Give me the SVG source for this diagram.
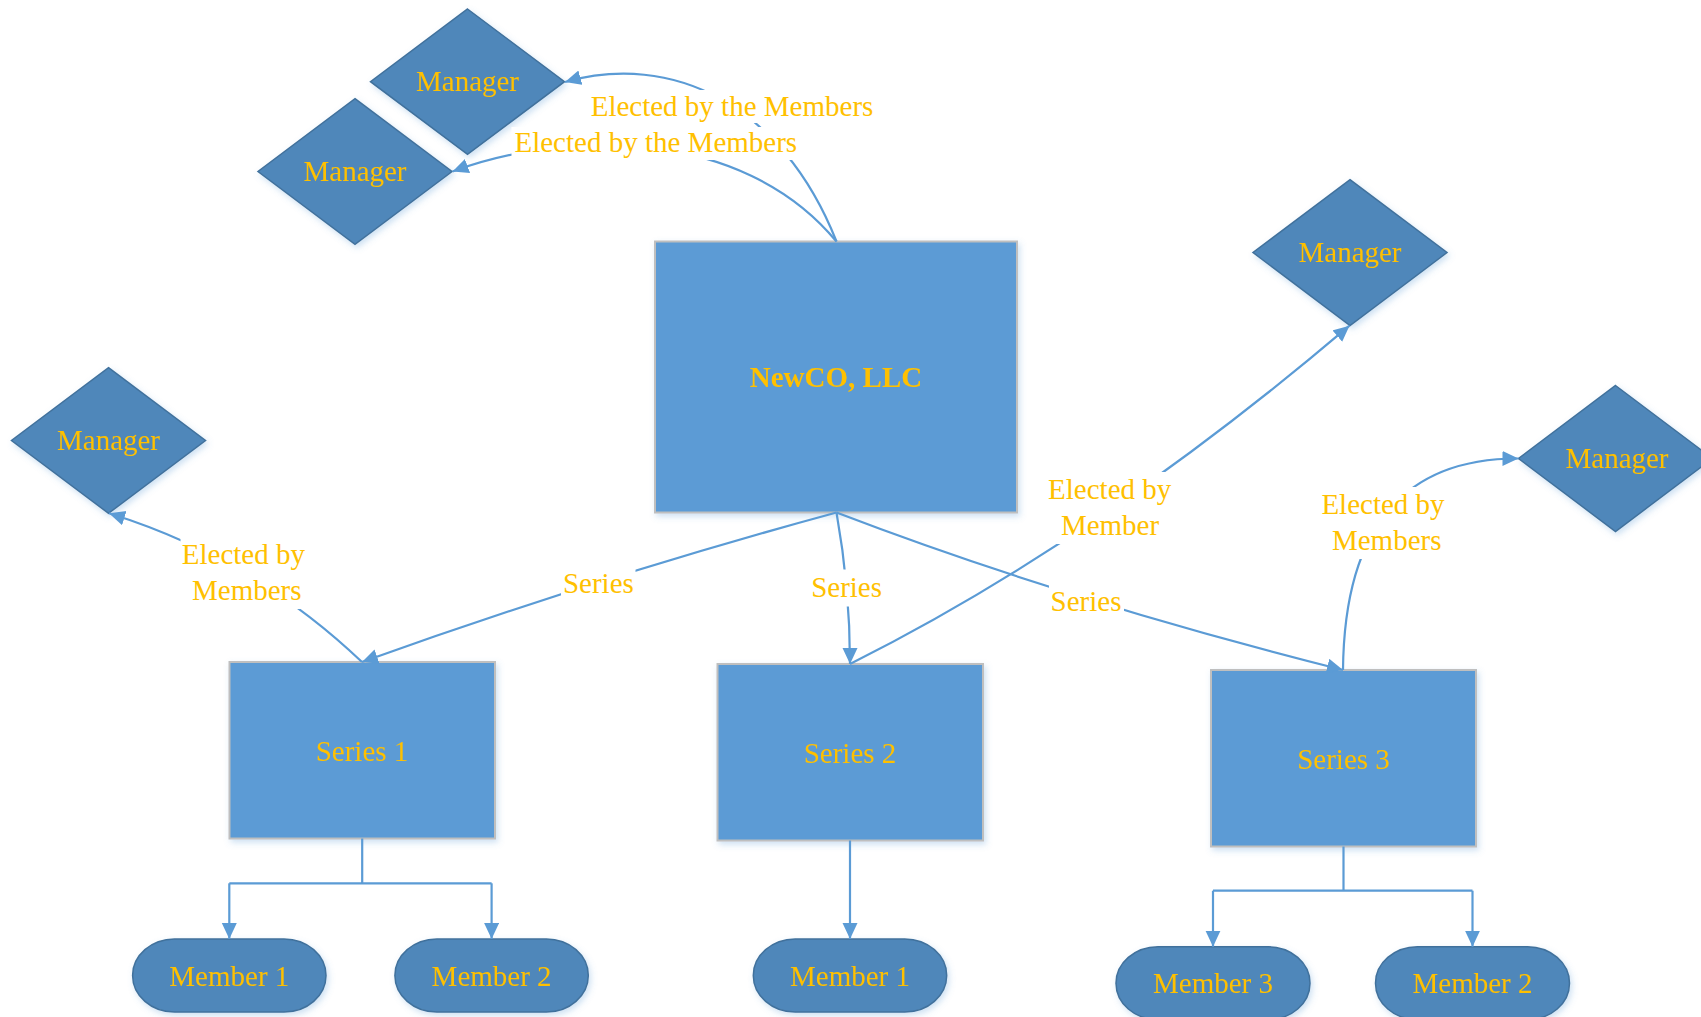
<svg xmlns="http://www.w3.org/2000/svg" width="1701" height="1017" viewBox="0 0 1701 1017">
<defs>
<style>
.box{fill:#5B9BD5;stroke:#BFBFBF;stroke-width:2}
.dia{fill:#4F87BA;stroke:#41719C;stroke-width:1.5}
.mem{fill:#4F87BA;stroke:#41719C;stroke-width:1.5}
.t{font-family:"Liberation Serif","Times New Roman",serif;font-size:29px;fill:#FFC000;text-anchor:middle}
.b{font-weight:bold}
.c{fill:none;stroke:#5B9BD5;stroke-width:2.2}
.lbg{fill:#FFFFFF}
</style>
<marker id="arr" markerUnits="userSpaceOnUse" markerWidth="17" markerHeight="16" refX="16" refY="7.5" orient="auto">
<path d="M0,0 L16,7.5 L0,15 z" fill="#5B9BD5"/>
</marker>
<filter id="sh" x="-10%" y="-10%" width="130%" height="130%">
<feDropShadow dx="2" dy="3" stdDeviation="3" flood-color="#5B9BD5" flood-opacity="0.3"/>
</filter>
</defs>
<rect width="1701" height="1017" fill="#FFFFFF"/>

<g id="newco" filter="url(#sh)">
<rect class="box" x="655" y="241.5" width="362" height="271"/>
<text class="t b" x="836" y="387">NewCO, LLC</text>
</g>

<g id="series1" filter="url(#sh)">
<rect class="box" x="229.5" y="662" width="265.5" height="176.5"/>
<text class="t" x="362" y="761">Series 1</text>
</g>
<g id="series2" filter="url(#sh)">
<rect class="box" x="717.5" y="664" width="265.5" height="176.5"/>
<text class="t" x="850" y="763">Series 2</text>
</g>
<g id="series3" filter="url(#sh)">
<rect class="box" x="1211" y="670" width="265" height="176.5"/>
<text class="t" x="1343.5" y="769">Series 3</text>
</g>

<g id="manager1" filter="url(#sh)">
<polygon class="dia" points="467.5,9 564.5,81.7 467.5,154.4 370.5,81.7"/>
<text class="t" x="467.5" y="90.5">Manager</text>
</g>
<g id="manager2" filter="url(#sh)">
<polygon class="dia" points="355,98.7 452,171.5 355,244.3 258,171.5"/>
<text class="t" x="355" y="180.5">Manager</text>
</g>
<g id="manager3" filter="url(#sh)">
<polygon class="dia" points="108.5,367.7 205.5,440.5 108.5,513.3 11.5,440.5"/>
<text class="t" x="108.5" y="449.5">Manager</text>
</g>
<g id="manager4" filter="url(#sh)">
<polygon class="dia" points="1350,179.7 1447,252.5 1350,325.5 1253,252.5"/>
<text class="t" x="1350" y="261.5">Manager</text>
</g>
<g id="manager5" filter="url(#sh)">
<polygon class="dia" points="1615.5,385.5 1712.5,458.5 1615.5,531.5 1518.5,458.5"/>
<text class="t" x="1617" y="467.5">Manager</text>
</g>

<g id="s1member1" filter="url(#sh)">
<rect class="mem" x="132.6" y="939" width="193.4" height="73" rx="42" ry="36.5"/>
<text class="t" x="229.3" y="985.5">Member 1</text>
</g>
<g id="s1member2" filter="url(#sh)">
<rect class="mem" x="394.9" y="939" width="193.4" height="73" rx="42" ry="36.5"/>
<text class="t" x="491.6" y="985.5">Member 2</text>
</g>
<g id="s2member1" filter="url(#sh)">
<rect class="mem" x="753.3" y="939" width="193.4" height="73" rx="42" ry="36.5"/>
<text class="t" x="850" y="985.5">Member 1</text>
</g>
<g id="s3member3" filter="url(#sh)">
<rect class="mem" x="1116" y="946.7" width="194" height="73" rx="42" ry="36.5"/>
<text class="t" x="1213" y="993.3">Member 3</text>
</g>
<g id="s3member2" filter="url(#sh)">
<rect class="mem" x="1375.5" y="946.7" width="194" height="73" rx="42" ry="36.5"/>
<text class="t" x="1472.5" y="993.3">Member 2</text>
</g>

<g id="connectors">
<path class="c" marker-end="url(#arr)" d="M836.5,241.5 C781,102 670.6,52.3 565,82"/>
<path class="c" marker-end="url(#arr)" d="M836.5,241.5 C740,125 562,131 452.5,171.5"/>
<path class="c" marker-end="url(#arr)" d="M836.5,512.5 Q599,577 362,662"/>
<path class="c" marker-end="url(#arr)" d="M836.5,512.5 Q850,588 850,664"/>
<path class="c" marker-end="url(#arr)" d="M836.5,512.5 Q1065,600 1343,670"/>
<path class="c" marker-end="url(#arr)" d="M362,662 Q253,558 109,513.3"/>
<path class="c" marker-end="url(#arr)" d="M850,664 Q1096,541 1349.5,325.7"/>
<path class="c" marker-end="url(#arr)" d="M1343,670 Q1345,458 1518.5,458.5"/>
<path class="c" d="M362.2,838.5 V883.3 M229.3,883.3 H491.6"/>
<path class="c" marker-end="url(#arr)" d="M229.3,883.3 V939"/>
<path class="c" marker-end="url(#arr)" d="M491.6,883.3 V939"/>
<path class="c" marker-end="url(#arr)" d="M850,840.5 V939"/>
<path class="c" d="M1343.5,846.5 V890.7 M1213,890.7 H1472.5"/>
<path class="c" marker-end="url(#arr)" d="M1213,890.7 V946.7"/>
<path class="c" marker-end="url(#arr)" d="M1472.5,890.7 V946.7"/>

<g id="labels">
<rect class="lbg" x="589" y="90" width="287" height="33"/>
<text class="t" x="732" y="115.5">Elected by the Members</text>
<rect class="lbg" x="511.5" y="127" width="288.5" height="33"/>
<text class="t" x="655.8" y="151.7">Elected by the Members</text>
<rect class="lbg" x="561" y="566" width="74.5" height="36"/>
<text class="t" x="598.4" y="593.3">Series</text>
<rect class="lbg" x="810" y="569.5" width="73" height="37"/>
<text class="t" x="846.6" y="596.7">Series</text>
<rect class="lbg" x="1049" y="584" width="75" height="33"/>
<text class="t" x="1086" y="611">Series</text>
<rect class="lbg" x="180.5" y="537" width="127" height="72"/>
<text class="t" x="243.4" y="564">Elected by</text>
<text class="t" x="246.8" y="600">Members</text>
<rect class="lbg" x="1047" y="472" width="125" height="72"/>
<text class="t" x="1109.7" y="499">Elected by</text>
<text class="t" x="1110" y="534.6">Member</text>
<rect class="lbg" x="1320" y="487" width="127" height="72"/>
<text class="t" x="1383" y="514">Elected by</text>
<text class="t" x="1386.7" y="550">Members</text>
</g>
</g>
</svg>
